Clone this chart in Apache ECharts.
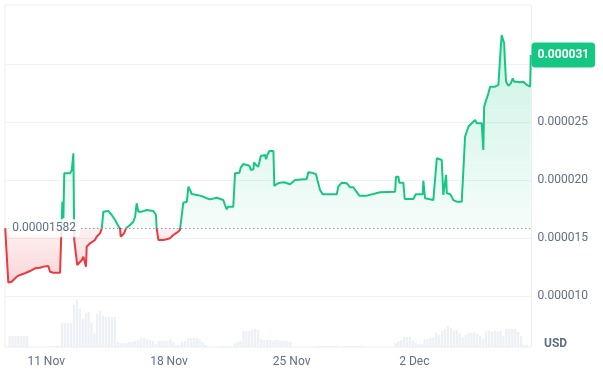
<!DOCTYPE html>
<html lang="en">
  <head>
    <meta charset="UTF-8" />
    <title>Price chart</title>
    <style>
      html, body { margin: 0; padding: 0; background: #fff; }
      #main { width: 603px; height: 377px; }
    </style>
  </head>
  <body>
    <div id="main"></div>
    <script src="https://cdn.jsdelivr.net/npm/echarts@6/dist/echarts.min.js"></script>
    <script>
      // x = day of November (32 = 2 Dec), price in millionths of a USD
      const baseline = 15.82;
      const xMin = 8.65;
      const xMax = 38.68;
      const tickDays = [11, 18, 25, 32];
      const tickLabels = ["11 Nov", "18 Nov", "25 Nov", "2 Dec"];

      const days = [
        8.66, 8.84, 9.03, 9.32, 9.51, 9.79, 10.08, 10.36, 10.65, 10.84,
        11.12, 11.22, 11.41, 11.79, 11.88, 11.92, 11.98, 12.03, 12.36, 12.46,
        12.55, 12.6, 12.77, 13.03, 13.12, 13.27, 13.31, 13.5, 13.78, 13.88,
        14.07, 14.17, 14.26, 14.54, 14.74, 14.93, 15.11, 15.21, 15.25, 15.44,
        15.55, 15.78, 15.97, 16.07, 16.16, 16.25, 16.45, 16.73, 17.11, 17.26,
        17.3, 17.4, 17.68, 17.87, 18.06, 18.25, 18.45, 18.63, 18.73, 18.82,
        19.02, 19.11, 19.2, 19.3, 19.59, 19.77, 19.87, 19.96, 20.16, 20.34,
        20.44, 20.73, 20.82, 21.1, 21.2, 21.3, 21.37, 21.67, 21.77, 22.02,
        22.1, 22.24, 22.44, 22.59, 22.67, 22.82, 22.85, 22.97, 23.1, 23.24,
        23.48, 23.54, 23.61, 23.73, 23.96, 24.01, 24.15, 24.34, 24.57, 24.68,
        24.91, 25.0, 25.19, 25.29, 25.86, 25.95, 26.15, 26.24, 26.39, 26.47,
        26.52, 26.62, 26.77, 27.57, 27.66, 27.86, 28.14, 28.23, 28.33, 28.52,
        28.62, 28.71, 28.86, 29.28, 29.37, 29.66, 29.76, 30.04, 30.14, 30.9,
        30.95, 31.09, 31.14, 31.37, 31.45, 31.94, 32.08, 32.48, 32.51, 32.61,
        32.71, 33.08, 33.18, 33.28, 33.56, 33.62, 33.65, 33.75, 33.81, 33.85,
        34.03, 34.13, 34.22, 34.42, 34.7, 34.79, 34.89, 35.08, 35.27, 35.46,
        35.56, 35.65, 35.84, 35.93, 35.98, 36.13, 36.22, 36.32, 36.41, 36.6,
        36.7, 36.79, 36.89, 36.93, 36.98, 37.08, 37.12, 37.17, 37.23, 37.36,
        37.5, 37.61, 37.69, 37.84, 38.03, 38.22, 38.41, 38.6, 38.64
      ];
      const prices = [
        15.82, 11.13, 11.21, 11.64, 11.79, 11.94, 12.13, 12.37, 12.42, 12.51,
        12.57, 12.07, 11.99, 11.99, 12.07, 18.11, 16.7, 20.56, 20.56, 20.84,
        22.28, 14.81, 12.65, 13.08, 13.37, 12.51, 14.23, 14.52, 14.81, 15.09,
        15.38, 15.81, 17.25, 17.31, 16.96, 16.53, 16.01, 15.81, 15.09, 15.38,
        15.81, 16.1, 16.38, 16.81, 17.97, 17.25, 17.25, 17.39, 17.31, 16.96,
        15.81, 14.81, 14.81, 14.87, 14.95, 15.24, 15.44, 15.67, 15.81, 18.02,
        18.11, 19.4, 19.12, 18.77, 18.69, 18.63, 18.75, 18.54, 18.4, 18.31,
        18.45, 18.45, 18.31, 18.25, 17.82, 17.45, 17.68, 17.68, 20.56, 20.61,
        21.07, 21.35, 21.27, 21.21, 20.84, 20.9, 21.5, 21.27, 21.12, 22.05,
        22.13, 21.76, 22.13, 22.48, 22.48, 19.46, 19.63, 19.75, 19.78, 19.61,
        19.61, 19.78, 19.98, 20.06, 20.06, 20.64, 20.61, 20.47, 20.47, 19.98,
        19.83, 19.12, 18.75, 18.75, 19.4, 19.75, 19.7, 19.7, 19.35, 19.35,
        19.12, 19.12, 18.63, 18.63, 18.75, 18.77, 18.92, 18.92, 18.97, 18.97,
        20.26, 20.26, 19.75, 19.75, 18.34, 18.34, 18.75, 18.75, 19.92, 18.4,
        18.31, 18.25, 18.4, 21.85, 21.7, 21.56, 18.69, 18.83, 20.41, 18.83,
        18.77, 18.54, 18.25, 18.11, 18.11, 20.7, 23.71, 24.57, 24.87, 25.15,
        24.87, 25.01, 24.87, 22.56, 26.3, 27.02, 27.45, 28.02, 27.94, 28.02,
        27.88, 28.17, 28.31, 31.47, 32.48, 32.39, 31.76, 30.04, 28.45, 28.11,
        28.31, 28.75, 28.45, 28.45, 28.4, 28.45, 28.17, 28.02, 30.75
      ];

      // volume, one bar per 4 hours starting 8 Nov 16:00 (relative units)
      const volStart = 8.667;
      const volStep = 1 / 6;
      const volumes = [
        0, 11, 11, 11, 11, 11, 11, 11, 0, 0,
        0, 0, 0, 0, 0, 1, 1, 1, 1, 24,
        24, 24, 24, 42, 47, 38, 28, 34, 35, 24,
        14, 33, 36, 31, 30, 30, 30, 30, 5, 4,
        4, 4, 5, 5, 6, 7, 9, 9, 8, 7,
        6, 3, 6, 6, 6, 6, 8, 5, 2, 2,
        5, 6, 9, 9, 9, 9, 8, 5, 2, 0,
        0, 0, 0, 1, 1, 1, 0, 0, 4, 5,
        6, 16, 16, 16, 17, 18, 17, 8, 7, 7,
        7, 6, 7, 7, 6, 6, 6, 5, 0, 0,
        0, 0, 0, 0, 0, 0, 0, 1, 1, 1,
        1, 1, 1, 1, 0, 0, 1, 1, 1, 1,
        1, 1, 1, 0, 0, 0, 0, 0, 0, 0,
        0, 0, 0, 4, 6, 7, 10, 10, 10, 6,
        4, 3, 3, 8, 8, 9, 9, 14, 12, 16,
        18, 21, 19, 16, 17, 14, 10, 12, 14, 14,
        15, 13, 11, 8, 16, 16, 15, 16, 15, 16,
        11, 18, 18, 18, 18, 15, 11, 2, 2, 0
      ];

      const green = "#16c784";
      const red = "#ea3943";
      const textColor = "#616e85";
      const font = "Roboto";

      const priceData = days.map((d, i) => [d, prices[i]]);
      const volData = volumes.map((v, i) => [volStart + (i + 0.5) * volStep, v]);
      const lastPrice = prices[prices.length - 1];

      // where the baseline sits inside the area's bounding box
      const pMax = Math.max(...prices);
      const pMin = Math.min(...prices);
      const baseOff = (pMax - baseline) / (pMax - pMin);

      const fmt = (v, n) => (v / 1e6).toFixed(n);

      var myChart = echarts.init(document.getElementById("main"));

      option = {
        animation: false,
        textStyle: { fontFamily: font },
        grid: [
          // price
          { left: 5, right: 71.5, top: 5.75, bottom: 23.25 },
          // volume + frame
          {
            left: 5,
            right: 71.5,
            top: 5,
            bottom: 30,
            show: true,
            borderColor: "#eaedf1",
            borderWidth: 1,
          },
        ],
        xAxis: [
          { type: "value", gridIndex: 0, min: xMin, max: xMax, show: false },
          {
            type: "value",
            gridIndex: 1,
            min: xMin,
            max: xMax,
            axisLine: { show: false },
            axisTick: { show: false },
            splitLine: { show: false },
            axisLabel: {
              customValues: tickDays,
              color: textColor,
              fontSize: 12,
              fontFamily: font,
              margin: 9,
              formatter: (v) => tickLabels[tickDays.indexOf(v)] || "",
            },
          },
        ],
        yAxis: [
          {
            type: "value",
            gridIndex: 0,
            position: "right",
            min: 5,
            max: 35,
            interval: 5,
            axisLine: { show: false },
            axisTick: { show: false },
            splitLine: {
              lineStyle: { color: "#eff2f5" },
              showMinLine: false,
              showMaxLine: false,
            },
            axisLabel: {
              color: textColor,
              fontSize: 12,
              fontFamily: font,
              margin: 6,
              formatter: (v) => (v >= 10 && v <= 25 ? fmt(v, 6) : ""),
            },
          },
          {
            type: "value",
            gridIndex: 1,
            min: 0,
            max: 340,
            show: false,
          },
        ],
        visualMap: {
          show: false,
          type: "piecewise",
          seriesIndex: 1,
          dimension: 1,
          pieces: [
            { gt: 0, lte: baseline, color: red },
            { gt: baseline, lte: 100, color: green },
          ],
          outOfRange: { color: green },
        },
        graphic: [
          {
            type: "text",
            left: 544,
            top: 338,
            style: {
              text: "USD",
              fill: textColor,
              font: "bold 12px Roboto",
            },
          },
        ],
        series: [
          {
            name: "Volume",
            type: "bar",
            xAxisIndex: 1,
            yAxisIndex: 1,
            data: volData,
            barWidth: 2.3,
            itemStyle: { color: "#edf0f4" },
            silent: true,
          },
          {
            name: "Price",
            type: "line",
            xAxisIndex: 0,
            yAxisIndex: 0,
            data: priceData,
            showSymbol: false,
            symbol: "none",
            lineStyle: { width: 2 },
            areaStyle: {
              origin: baseline,
              color: new echarts.graphic.LinearGradient(0, 0, 0, 1, [
                { offset: 0, color: "rgba(22,199,132,0.32)" },
                { offset: baseOff, color: "rgba(22,199,132,0.06)" },
                { offset: baseOff, color: "rgba(234,57,67,0.1)" },
                { offset: 1, color: "rgba(234,57,67,0.3)" },
              ]),
            },
            markLine: {
              silent: true,
              symbol: ["none", "none"],
              data: [
                {
                  yAxis: baseline,
                  lineStyle: { color: "#8f9bb0", type: [1.5, 2.5], width: 1 },
                  label: {
                    position: "start",
                    distance: -75,
                    formatter: () => fmt(baseline, 8),
                    color: textColor,
                    fontSize: 12,
                    fontFamily: font,
                    backgroundColor: "rgba(255,255,255,0.85)",
                    padding: [5, 4, 1, 4],
                    borderRadius: 4,
                  },
                },
                {
                  yAxis: lastPrice,
                  lineStyle: { color: "rgba(0,0,0,0)", width: 0 },
                  label: {
                    position: "end",
                    distance: 0,
                    opacity: 1,
                    formatter: () => fmt(lastPrice, 6),
                    color: "#fff",
                    fontWeight: "bold",
                    fontSize: 12,
                    fontFamily: font,
                    backgroundColor: green,
                    padding: [7, 6, 6, 6],
                    borderRadius: 4,
                  },
                },
              ],
            },
          },
        ],
      };

      myChart.setOption(option);
    </script>
  </body>
</html>
